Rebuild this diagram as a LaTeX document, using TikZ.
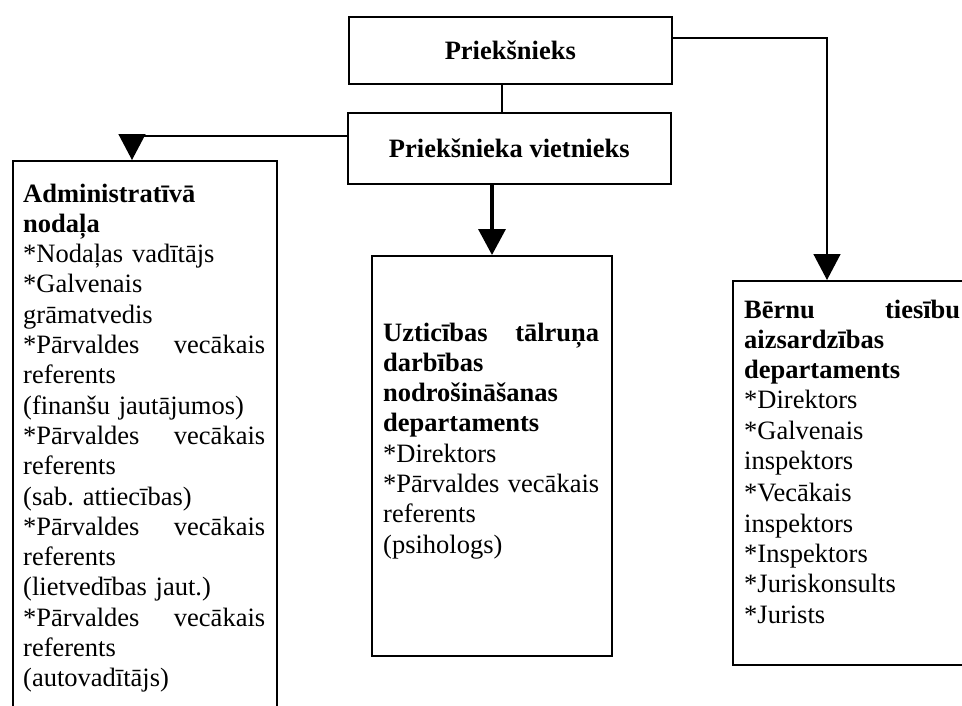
\documentclass[tikz,border=0pt]{standalone}
\usepackage{fontspec}
\setmainfont{Liberation Serif}
\usetikzlibrary{arrows.meta}
\newcommand\jline[2]{\makebox[\linewidth][l]{#1\hfill #2}}
\frenchspacing
\begin{document}
\begin{tikzpicture}[x=1pt,y=-1pt,
  box/.style={draw, line width=1.6pt, inner sep=0pt, anchor=north west},
  txt/.style={inner sep=0pt, anchor=base west, align=left, font=\fontsize{26.5}{30.3}\selectfont\frenchspacing},
  head/.style={font=\fontsize{26.5}{30.3}\selectfont\bfseries},
  conn/.style={line width=1.5pt},
  arr/.style={line width=1.5pt, -{Triangle[length=26pt,width=27pt]}},
]
\fill[white] (0,0) rectangle (962,705);
\useasboundingbox (0,0) rectangle (962,705);
\clip (0,0) rectangle (962,705);

\node[box, head, minimum width=323pt, minimum height=67pt] (p) at (348,16) {Priekšnieks};
\node[box, head, minimum width=323pt, minimum height=71pt] (v) at (347,112) {Priekšnieka vietnieks};

\node[box, minimum width=264pt, minimum height=600pt] (a) at (12,160) {};
\node[box, minimum width=240pt, minimum height=400pt] (c) at (371,255) {};
\node[box, minimum width=245pt, minimum height=384pt] (r) at (732,280) {};

\node[txt, text width=242pt] (at) at (23,202) {%
\textbf{Administratīvā}\\
\textbf{nodaļa}\\
{*}Nodaļas vadītājs\\
{*}Galvenais\\
grāmatvedis\\
\jline{*Pārvaldes}{vecākais}\\
referents\\
(finanšu jautājumos)\\
\jline{*Pārvaldes}{vecākais}\\
referents\\
(sab. attiecības)\\
\jline{*Pārvaldes}{vecākais}\\
referents\\
(lietvedības jaut.)\\
\jline{*Pārvaldes}{vecākais}\\
referents\\
(autovadītājs)};

\node[txt, text width=216pt] (ct) at (383,341) {%
\jline{\textbf{Uzticības}}{\textbf{tālruņa}}\\
\textbf{darbības}\\
\textbf{nodrošināšanas}\\
\textbf{departaments}\\
{*}Direktors\\
\jline{*Pārvaldes}{vecākais}\\
referents\\
(psihologs)};

\node[txt, text width=216pt] (rt) at (744,318) {%
\jline{\textbf{Bērnu}}{\textbf{tiesību}}\\
\textbf{aizsardzības}\\
\textbf{departaments}\\
{*}Direktors\\
{*}Galvenais\\
inspektors\\[2pt]
{*}Vecākais\\
inspektors\\
{*}Inspektors\\
{*}Juriskonsults\\
{*}Jurists};

\coordinate (pv) at (502,0);
\coordinate (yr) at (827,38);
\coordinate (yl) at (132,136);
\coordinate (xc) at (492,0);

\draw[conn] (p.south -| pv) -- (v.north -| pv);
\draw[arr] (p.east |- yr) -- (yr) -- (r.north -| yr);
\draw[arr] (v.west |- yl) -- (yl) -- (a.north -| yl);
\draw[arr, line width=3.5pt] (v.south -| xc) -- (c.north -| xc);
\end{tikzpicture}
\end{document}
